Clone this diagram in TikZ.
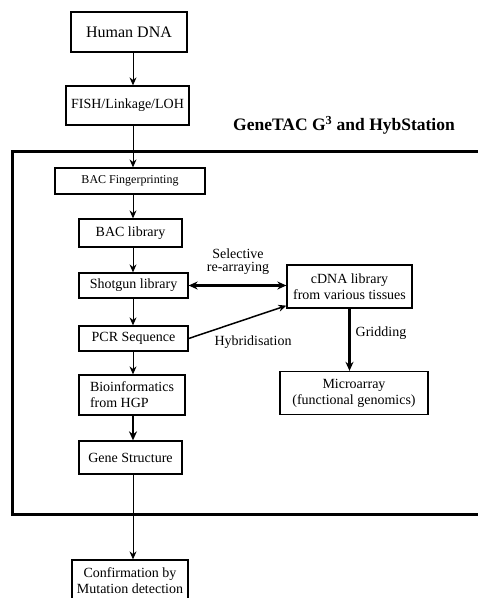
\documentclass[tikz,border=0pt]{standalone}
\usepackage{fontspec}
\setmainfont{Liberation Serif}
\usetikzlibrary{arrows.meta}

\tikzset{
	stepbox/.style={draw, line width=1.3pt, align=center, inner sep=1pt, font=\fontsize{14}{16}\selectfont},
	flow/.style={line width=1pt, -{Stealth[length=8pt,width=7pt]}},
	thickflow/.style={line width=2.2pt, -{Stealth[length=9pt,width=8pt]}},
	lbl/.style={align=center, font=\fontsize{14}{13}\selectfont}
}

\begin{document}
\begin{tikzpicture}[x=1pt, y=-1pt]
			%%%%% START %%%%%
			\useasboundingbox (0,0) rectangle (478,598);
			
			\node[stepbox, minimum width=116pt, minimum height=40pt, font=\fontsize{16}{18}\selectfont] (dna) at (129,32) {Human DNA};
			\node[stepbox, minimum width=123pt, minimum height=39pt] (fish) at (127.5,105.5) {FISH/Linkage/LOH};
			
			\node[font=\bfseries\fontsize{17.5}{20}\selectfont] (title) at (344,125) {GeneTAC G\textsuperscript{3} and HybStation};
			\draw[line width=3pt] (12,151) rectangle (484,514);
			
			\node[stepbox, minimum width=150pt, minimum height=26pt, font=\fontsize{12}{14}\selectfont] (bacfp) at (130,181) {BAC Fingerprinting};
			\node[stepbox, minimum width=103pt, minimum height=28pt] (baclib) at (130.5,233) {BAC library};
			\node[stepbox, minimum width=109pt, minimum height=25pt] (shotgun) at (133.5,285.5) {Shotgun library};
			\node[stepbox, minimum width=109pt, minimum height=25pt] (pcr) at (133.5,338.5) {PCR Sequence};
			\node[stepbox, minimum width=106pt, minimum height=40pt, align=left] (bioinf) at (132,395) {Bioinformatics\\from HGP};
			\node[stepbox, minimum width=103pt, minimum height=33pt] (gene) at (130.5,457.5) {Gene Structure};
			\node[stepbox, minimum width=116pt, minimum height=42pt] (confirm) at (130,581) {Confirmation by\\Mutation detection};
			
			\node[stepbox, minimum width=125pt, minimum height=43pt] (cdna) at (349.5,286.5) {cDNA library\\from various tissues};
			\node[stepbox, minimum width=148pt, minimum height=43pt] (micro) at (354,393) {Microarray\\(functional genomics)};
			
			% main column
			\draw[flow] (dna.south -| 133,0) -- (fish.north -| 133,0);
			\draw[flow] (fish.south -| 133,0) -- (bacfp.north -| 133,0);
			\draw[flow] (bacfp.south -| 133,0) -- (baclib.north -| 133,0);
			\draw[flow] (baclib.south -| 133,0) -- (shotgun.north -| 133,0);
			\draw[flow] (shotgun.south -| 133,0) -- (pcr.north -| 133,0);
			\draw[flow] (pcr.south -| 133,0) -- (bioinf.north -| 133,0);
			\draw[thickflow, line width=1.8pt] (bioinf.south -| 133,0) -- (gene.north -| 133,0);
			\draw[flow] (gene.south -| 133,0) -- (confirm.north -| 133,0);
			
			% side branch
			\draw[thickflow, {Stealth[length=9pt,width=8pt]}-{Stealth[length=9pt,width=8pt]}] (shotgun.east) -- (shotgun.east -| cdna.west);
			\node[lbl] (rearray) at (238,262) {Selective\\re-arraying};
			\draw[line width=1.5pt, -{Stealth[length=8pt,width=7pt]}] (pcr.east) -- ([yshift=3pt]cdna.south west);
			\node[lbl] (hyb) at (253,342) {Hybridisation};
			\draw[thickflow] (cdna.south) -- (cdna.south |- micro.north);
			\node[lbl] (grid) at (381,333) {Gridding};
			
			%%%%% END %%%%%
		\end{tikzpicture}
\end{document}
